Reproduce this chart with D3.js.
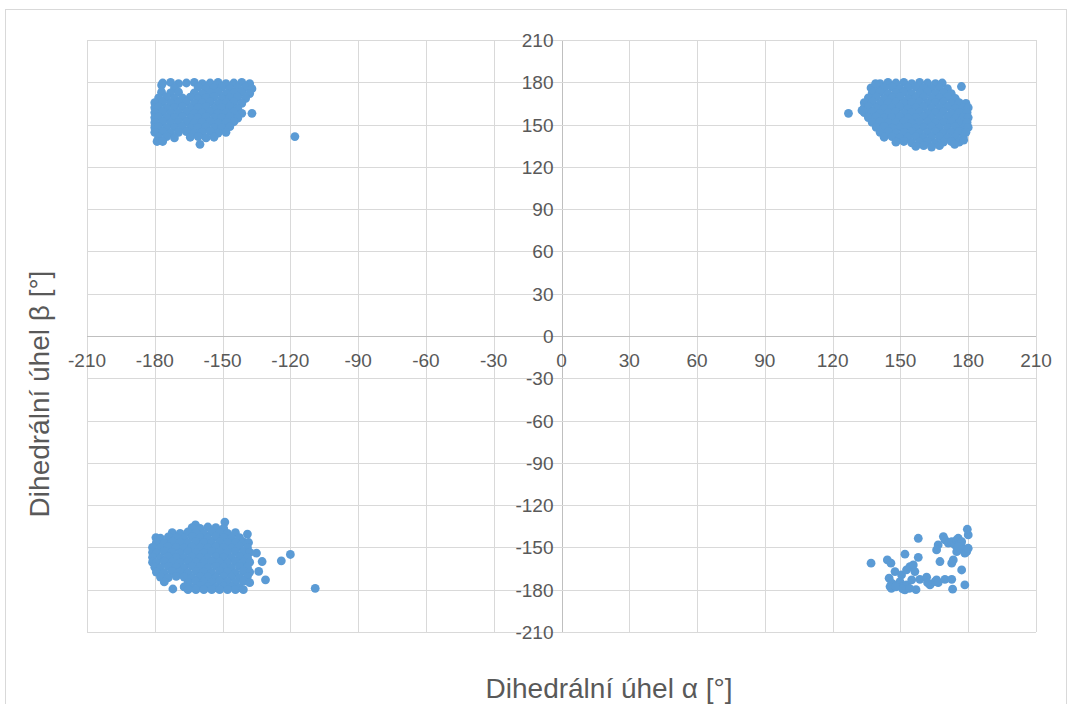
<!DOCTYPE html>
<html><head><meta charset="utf-8">
<script src="https://cdn.jsdelivr.net/npm/d3@7/dist/d3.min.js"></script>
<style>body{margin:0;background:#fff}svg{display:block}</style>
</head><body>
<svg id="c" width="1072" height="704"></svg>
<script>
const xTicks = [-210,-180,-150,-120,-90,-60,-30,0,30,60,90,120,150,180,210];
const yTicks = [-210,-180,-150,-120,-90,-60,-30,0,30,60,90,120,150,180,210];
const xTitle = "Dihedrální úhel α [°]";
const yTitle = "Dihedrální úhel β [°]";

// top-right cluster (α ≈ 127..180, β ≈ 134..180)
const clusterTR = [
[141,179],[144.5,180],[148,179.5],[151.5,180],[155,179],[158.5,180],[162,179.5],[165.5,179],[168.5,179.5],
[137,176],[139.3,176.5],[142.8,176],[146.3,176.5],[149.8,175.5],[153.3,176],[156.8,176.5],[160.3,176],[163.8,175.5],[167.3,176],[170.8,175.5],
[137.5,172.5],[141,173],[144.5,172],[148,172.5],[151.5,173],[155,172],[158.5,172.5],[162,173],[165.5,172],[169,172.5],[172.5,172],
[135.8,169],[139.3,169.5],[142.8,168.5],[146.3,169],[149.8,169.5],[153.3,168.5],[156.8,169],[160.3,169.5],[163.8,168.5],[167.3,169],[170.8,169.5],[174.3,168.5],
[134,165.5],[137.5,166],[141,165],[144.5,165.5],[148,166],[151.5,165],[155,165.5],[158.5,166],[162,165],[165.5,165.5],[169,166],[172.5,165],[176,165.5],[179,165],
[134,162],[135.8,162.5],[139.3,162],[142.8,161.5],[146.3,162],[149.8,162.5],[153.3,161.5],[156.8,162],[160.3,162.5],[163.8,161.5],[167.3,162],[170.8,162.5],[174.3,161.5],[177.8,162],[180,162],
[134,158.5],[137.5,159],[141,158],[144.5,158.5],[148,159],[151.5,158],[155,158.5],[158.5,159],[162,158],[165.5,158.5],[169,159],[172.5,158],[176,158.5],[179.5,158.5],
[135.8,155],[139.3,155.5],[142.8,154.5],[146.3,155],[149.8,155.5],[153.3,154.5],[156.8,155],[160.3,155.5],[163.8,154.5],[167.3,155],[170.8,155.5],[174.3,154.5],[177.8,155],[180,155],
[137.5,151.5],[141,152],[144.5,151],[148,151.5],[151.5,152],[155,151],[158.5,151.5],[162,152],[165.5,151],[169,151.5],[172.5,152],[176,151],[179.5,151.5],
[139.3,148],[142.8,148.5],[146.3,147.5],[149.8,148],[153.3,148.5],[156.8,147.5],[160.3,148],[163.8,148.5],[167.3,147.5],[170.8,148],[174.3,148.5],[177.8,147.5],[180,148],
[141,144.5],[144.5,145],[148,144],[151.5,144.5],[155,145],[158.5,144],[162,144.5],[165.5,145],[169,144],[172.5,144.5],[176,145],[179,144.5],
[142.8,141],[146.3,141.5],[149.8,140.5],[153.3,141],[156.8,141.5],[160.3,140.5],[163.8,141],[167.3,141.5],[170.8,140.5],[174.3,141],[177.8,141],
[148,137.5],[151.5,138],[155,137],[158.5,137.5],[162,138],[165.5,137],[169,137.5],[172.5,138],[176,137.5],
[156.8,134.5],[160.3,135],[163.8,134],[167.3,135],
[127,158],[133,160],[177,177],[139,179],[178,139],[174,136]
];

// top-left cluster (α ≈ -180..-118, β ≈ 136..180)
const clusterTL = [
[-177,178],[-177,173],
[-176.5,179.5],[-173,180],[-169.5,179],[-166,179.5],[-162.5,180],[-159,179],[-155.5,179.5],[-152,180],[-148.5,179],[-145,179.5],[-141.5,180],[-138,179],
[-171.3,176],[-160.8,176.5],[-157.3,175.5],[-153.8,176],[-150.3,176.5],[-146.8,175.5],[-143.3,176],[-139.8,176.5],[-137,175.5],
[-173,172.5],[-169.5,173],[-159,172],[-155.5,172.5],[-152,173],[-148.5,172],[-145,172.5],[-141.5,173],[-138,172],[-162.5,172.5],
[-178.3,169],[-174.8,169.5],[-171.3,168.5],[-167.8,169],[-164.3,169.5],[-160.8,168.5],[-157.3,169],[-153.8,169.5],[-150.3,168.5],[-146.8,169],[-143.3,169.5],[-139.8,168.5],
[-180,165.5],[-176.5,166],[-173,165],[-169.5,165.5],[-166,166],[-162.5,165],[-159,165.5],[-155.5,166],[-152,165],[-148.5,165.5],[-145,166],[-141.5,165],
[-180,162],[-178.3,162.5],[-174.8,161.5],[-171.3,162],[-167.8,162.5],[-164.3,161.5],[-160.8,162],[-157.3,162.5],[-153.8,161.5],[-150.3,162],[-146.8,162.5],[-143.3,161.5],
[-180,158.5],[-176.5,159],[-173,158],[-169.5,158.5],[-166,159],[-162.5,158],[-159,158.5],[-155.5,159],[-152,158],[-148.5,158.5],[-145,159],[-141.5,158],[-137,158],
[-180,155],[-178.3,155.5],[-174.8,154.5],[-171.3,155],[-167.8,155.5],[-164.3,154.5],[-160.8,155],[-157.3,155.5],[-153.8,154.5],[-150.3,155],[-146.8,155.5],[-143.3,154.5],
[-180,151.5],[-176.5,152],[-173,151],[-169.5,151.5],[-166,152],[-162.5,151],[-159,151.5],[-155.5,152],[-152,151],[-148.5,151.5],[-145,152],
[-180,148],[-178.3,148.5],[-174.8,147.5],[-171.3,148],[-167.8,148.5],[-164.3,147.5],[-160.8,148],[-157.3,148.5],[-153.8,147.5],[-150.3,148],[-146.8,148.5],
[-180,144.5],[-176.5,145],[-173,144],[-169.5,144.5],[-166,145],[-162.5,144],[-159,144.5],[-155.5,145],[-152,144],[-148.5,144.5],
[-178.3,141],[-174.8,141.5],[-171.3,140.5],[-164.3,141],[-160.8,141.5],[-157.3,140.5],[-153.8,141],
[-179,138],[-176.5,138],[-160,136],[-118,141.5]
];

// bottom-left cluster (α ≈ -181..-109, β ≈ -132..-180)
const clusterBL = [
[-149,-132],[-162,-134],
[-163.5,-136],[-160,-136.5],[-156.5,-135.5],[-153,-136],[-149.5,-136.5],
[-172.3,-139.5],[-168.8,-140],[-165.3,-139],[-161.8,-139.5],[-158.3,-140],[-154.8,-139],[-151.3,-139.5],[-147.8,-140],[-144.3,-139.5],
[-179.5,-143],[-177.5,-143.5],[-174,-142.5],[-170.5,-143],[-167,-143.5],[-163.5,-142.5],[-160,-143],[-156.5,-143.5],[-153,-142.5],[-149.5,-143],[-146,-143.5],[-142.5,-143],
[-179.3,-146.5],[-175.8,-147],[-172.3,-146],[-168.8,-146.5],[-165.3,-147],[-161.8,-146],[-158.3,-146.5],[-154.8,-147],[-151.3,-146],[-147.8,-146.5],[-144.3,-147],[-140.8,-146],[-138.5,-146.5],
[-181,-150],[-177.5,-150.5],[-174,-149.5],[-170.5,-150],[-167,-150.5],[-163.5,-149.5],[-160,-150],[-156.5,-150.5],[-153,-149.5],[-149.5,-150],[-146,-150.5],[-142.5,-149.5],[-139,-150],
[-181,-153.5],[-179.3,-154],[-175.8,-153],[-172.3,-153.5],[-168.8,-154],[-165.3,-153],[-161.8,-153.5],[-158.3,-154],[-154.8,-153],[-151.3,-153.5],[-147.8,-154],[-144.3,-153],[-140.8,-153.5],[-138,-153.5],
[-181,-157],[-177.5,-157.5],[-174,-156.5],[-170.5,-157],[-167,-157.5],[-163.5,-156.5],[-160,-157],[-156.5,-157.5],[-153,-156.5],[-149.5,-157],[-146,-157.5],[-142.5,-156.5],[-139,-157],
[-181,-160.5],[-179.3,-161],[-175.8,-160],[-172.3,-160.5],[-168.8,-161],[-165.3,-160],[-161.8,-160.5],[-158.3,-161],[-154.8,-160],[-151.3,-160.5],[-147.8,-161],[-144.3,-160],[-140.8,-160.5],[-138,-160.5],
[-180,-164],[-177.5,-164.5],[-174,-163.5],[-170.5,-164],[-167,-164.5],[-163.5,-163.5],[-160,-164],[-156.5,-164.5],[-153,-163.5],[-149.5,-164],[-146,-164.5],[-142.5,-163.5],[-139,-164],
[-179.3,-167.5],[-175.8,-168],[-172.3,-167],[-168.8,-167.5],[-165.3,-168],[-161.8,-167],[-158.3,-167.5],[-154.8,-168],[-151.3,-167],[-147.8,-167.5],[-144.3,-168],[-140.8,-167],[-138,-167.5],
[-177.5,-171],[-174,-171.5],[-170.5,-170.5],[-167,-171],[-163.5,-171.5],[-160,-170.5],[-156.5,-171],[-153,-171.5],[-149.5,-170.5],[-146,-171],[-142.5,-171.5],[-139,-170.5],
[-175.8,-174.5],[-165.3,-175],[-161.8,-174],[-158.3,-174.5],[-154.8,-175],[-151.3,-174],[-147.8,-174.5],[-144.3,-175],[-140.8,-174],[-138,-175],
[-167,-178],[-163.5,-178.5],[-160,-177.5],[-156.5,-178],[-153,-178.5],[-149.5,-177.5],[-146,-178],[-142.5,-178.5],
[-172,-179.5],[-165.3,-180],[-161.8,-180],[-158.3,-180],[-154.8,-180],[-151.3,-180],[-147.8,-180],[-144.3,-180],[-140.8,-180],
[-135,-154],[-132.5,-160],[-131,-173],[-124,-159.5],[-120,-155],[-109,-179],[-134,-167],[-139,-140.5]
];

// bottom-right cluster (sparse)
const clusterBR = [
[137,-161.2],[144.2,-158.9],[145.8,-161.2],[152,-154.8],[157.9,-143.5],[157.9,-157],
[147.6,-167.1],[150.5,-169.5],[152.7,-165.9],[154.2,-163.6],[155.7,-162.4],[156.4,-167.1],
[145,-171.8],[146.1,-175.4],[145.4,-177.8],[148.3,-176.6],[149.8,-174.3],[151.2,-177.8],[152,-180.1],[152.7,-176.6],
[155,-173],[156.9,-180],[158.6,-172.6],[161.6,-171.1],[163.1,-176.6],[165.3,-174.3],[166,-173],[166.7,-175],[169.7,-172.6],
[167.5,-160],[169,-142.3],[166.7,-148.2],[166,-151.8],[169.7,-144.7],
[172.7,-161.2],[173.4,-158.9],[172.7,-172.6],[173.1,-179.6],[177.1,-166],[178.5,-176.6],
[171.2,-147],[172.7,-145.9],[174.1,-148.2],[174.9,-144.7],[175.6,-143.5],[176.3,-147],[177.1,-149.4],[177.8,-151.8],
[178.5,-154.1],[179.3,-153],[180,-150.6],[180,-141.1],[179.6,-137.1],[174.9,-153],[177.1,-145.9],[175.6,-149.4],
[146,-179],[148,-178],[151,-179.5],[154,-179],[162,-175]
];

const svg = d3.select("#c");
const W = 1072, H = 704;
svg.append("rect").attr("width", W).attr("height", H).attr("fill", "#fff");
svg.append("rect").attr("x", 5.5).attr("y", 9.5).attr("width", 1061).attr("height", 720)
  .attr("fill", "none").attr("stroke", "#d9d9d9").attr("stroke-width", 1);

const x = d3.scaleLinear().domain([-210, 210]).range([87, 1036]);
const y = d3.scaleLinear().domain([-210, 210]).range([632, 40]);

const font = "'Liberation Sans Narrow','Liberation Sans',Arial,sans-serif";
const g = svg.append("g");

// gridlines
g.selectAll(".vg").data(xTicks).join("line")
  .attr("x1", d => Math.round(x(d)) + 0.5).attr("x2", d => Math.round(x(d)) + 0.5)
  .attr("y1", y(210)).attr("y2", y(-210))
  .attr("stroke", d => d === 0 ? "#bfbfbf" : "#d9d9d9").attr("stroke-width", 1);
g.selectAll(".hg").data(yTicks).join("line")
  .attr("y1", d => Math.round(y(d)) + 0.5).attr("y2", d => Math.round(y(d)) + 0.5)
  .attr("x1", x(-210)).attr("x2", x(210))
  .attr("stroke", d => d === 0 ? "#bfbfbf" : "#d9d9d9").attr("stroke-width", 1);

// points
const all = [].concat(clusterTL, clusterTR, clusterBL, clusterBR);
g.selectAll("circle").data(all).join("circle")
  .attr("cx", d => x(d[0])).attr("cy", d => y(d[1])).attr("r", 4.4)
  .attr("fill", "#5b9bd5");

// tick labels
g.selectAll(".xl").data(xTicks).join("text")
  .attr("x", d => x(d)).attr("y", y(0) + 31)
  .attr("text-anchor", "middle").attr("font-family", font).attr("font-size", 19)
  .attr("fill", "#595959").text(d => d);
g.selectAll(".yl").data(yTicks).join("text")
  .attr("x", x(0) - 8).attr("y", d => y(d) + 7)
  .attr("text-anchor", "end").attr("font-family", font).attr("font-size", 19)
  .attr("fill", "#595959").text(d => d);

// axis titles
svg.append("text").attr("x", 609).attr("y", 698)
  .attr("text-anchor", "middle").attr("font-family", font).attr("font-size", 28)
  .attr("fill", "#595959").text(xTitle);
svg.append("text").attr("transform", "translate(49,394) rotate(-90)")
  .attr("text-anchor", "middle").attr("font-family", font).attr("font-size", 28)
  .attr("fill", "#595959").text(yTitle);
</script>
</body></html>
